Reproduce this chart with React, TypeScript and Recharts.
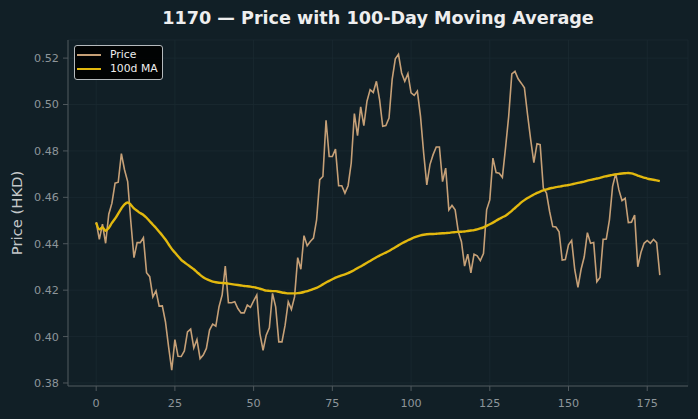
import { LineChart, Line, XAxis, YAxis, CartesianGrid } from "recharts";

// daily closing price (HKD), day 0..179
const price = [
  0.4493, 0.4419, 0.4484, 0.4402, 0.4527, 0.4575, 0.4661, 0.4665, 0.4788, 0.4719,
  0.4668, 0.4496, 0.434, 0.4405, 0.4405, 0.4426, 0.4275, 0.4258, 0.4171, 0.4197,
  0.4131, 0.4132, 0.4064, 0.3956, 0.3855, 0.3987, 0.3915, 0.3914, 0.3938, 0.402,
  0.4032, 0.3951, 0.3987, 0.3905, 0.392, 0.3949, 0.4028, 0.4054, 0.4045, 0.4128,
  0.4179, 0.4304, 0.4146, 0.4146, 0.415, 0.4121, 0.4102, 0.4102, 0.4136, 0.4126,
  0.4154, 0.4179, 0.4013, 0.3941, 0.4006, 0.4038, 0.4186, 0.4128, 0.3977, 0.3977,
  0.4049, 0.415, 0.4117, 0.4171, 0.434, 0.429, 0.4435, 0.4391, 0.441, 0.4424,
  0.4503, 0.4676, 0.469, 0.4932, 0.4776, 0.4776, 0.4808, 0.465, 0.465, 0.4618,
  0.465, 0.4748, 0.4961, 0.4866, 0.499, 0.4909, 0.5014, 0.5064, 0.5052, 0.51,
  0.5021, 0.4906, 0.4909, 0.4942, 0.5108, 0.5197, 0.5216, 0.5136, 0.51, 0.5133,
  0.505, 0.5039, 0.5058, 0.4949, 0.4791, 0.4654, 0.4741, 0.4784, 0.4817, 0.4817,
  0.4668, 0.4726, 0.4546, 0.4565, 0.4546, 0.4452, 0.4409, 0.4304, 0.4355, 0.4275,
  0.4355, 0.4348, 0.4327, 0.4358, 0.4546, 0.4589, 0.4769, 0.4707, 0.4704, 0.4686,
  0.4813, 0.4949, 0.5132, 0.5143, 0.5111, 0.5092, 0.5072, 0.4956, 0.4848, 0.475,
  0.4831, 0.4827, 0.464, 0.4618, 0.4539, 0.4474, 0.4472, 0.4452, 0.433, 0.4332,
  0.4395, 0.4414, 0.4287, 0.4212, 0.429, 0.4344, 0.4448, 0.4402, 0.4405, 0.4236,
  0.4255, 0.4419, 0.442, 0.4503, 0.4647, 0.4702, 0.4632, 0.4586, 0.4596, 0.4491,
  0.4493, 0.4524, 0.4301, 0.4362, 0.4402, 0.4414, 0.4402, 0.4419, 0.4405, 0.4265,
];

// 100-day moving average
const ma100 = [
  0.4491, 0.4462, 0.447, 0.4456, 0.4468, 0.449, 0.4508, 0.453, 0.4552, 0.457,
  0.4578, 0.4568, 0.4552, 0.4542, 0.4532, 0.4524, 0.4512, 0.4497, 0.4482, 0.4468,
  0.4452, 0.4436, 0.4418, 0.4398, 0.4378, 0.4362, 0.4346, 0.4331, 0.432, 0.431,
  0.43, 0.429, 0.4278, 0.4266, 0.4256, 0.4248, 0.4242, 0.4237, 0.4234, 0.4232,
  0.4231, 0.423, 0.4228, 0.4226, 0.4224, 0.4222, 0.422, 0.4218, 0.4217, 0.4215,
  0.4213, 0.421, 0.4206, 0.4202, 0.4198, 0.4197, 0.4196, 0.4196, 0.4193, 0.419,
  0.4188, 0.4186, 0.4186, 0.4186, 0.4187, 0.4189, 0.4192, 0.4196, 0.42, 0.4205,
  0.421, 0.4217, 0.4225, 0.4233, 0.424, 0.4247, 0.4254, 0.4259, 0.4264, 0.4268,
  0.4273, 0.428, 0.4287, 0.4295, 0.4302, 0.431, 0.4318, 0.4326, 0.4334, 0.4342,
  0.4349, 0.4356, 0.4362, 0.4369, 0.4377, 0.4385, 0.4393, 0.4401, 0.4408, 0.4415,
  0.4421, 0.4427, 0.4432, 0.4436, 0.4439, 0.4441, 0.4442, 0.4442, 0.4443, 0.4444,
  0.4445, 0.4446, 0.4447, 0.4449, 0.445, 0.4451, 0.4452, 0.4453, 0.4455, 0.4457,
  0.4459, 0.4462, 0.4466, 0.4471, 0.4477, 0.4484, 0.4491, 0.4499, 0.4507, 0.4514,
  0.4521, 0.4531, 0.4542, 0.4554, 0.4566, 0.4578, 0.4588, 0.4597, 0.4605, 0.4612,
  0.4619, 0.4625, 0.463, 0.4634, 0.4638, 0.4641, 0.4644, 0.4646, 0.4649, 0.4651,
  0.4653, 0.4656, 0.4659, 0.4662, 0.4665, 0.4668, 0.4672, 0.4675, 0.4678, 0.4681,
  0.4684, 0.4688, 0.4691, 0.4694, 0.4697, 0.4699, 0.4701, 0.4703, 0.4704, 0.4705,
  0.4703, 0.4699, 0.4694, 0.4689, 0.4685, 0.4681, 0.4678, 0.4676, 0.4673, 0.467,
];

const xTicks = [0, 25, 50, 75, 100, 125, 150, 175];
const yTicks = [0.38, 0.4, 0.42, 0.44, 0.46, 0.48, 0.5, 0.52];

const data = price.map((p, i) => ({ day: i, price: p, ma: ma100[i] }));

const BG = "#111f26";
const PRICE_COLOR = "#c6a077";
const MA_COLOR = "#e2b80e";
const TICK_COLOR = "#8d959a";
const FONT = "'DejaVu Sans', sans-serif";

function LegendBox() {
  const rows = [
    { label: "Price", color: PRICE_COLOR, w: 1.8 },
    { label: "100d MA", color: MA_COLOR, w: 2.4 },
  ];
  return (
    <div
      style={{
        position: "absolute",
        left: 74,
        top: 45,
        width: 87,
        height: 33,
        background: "rgba(0,0,0,0.9)",
        border: "1px solid #b5babd",
        borderRadius: 3,
        fontFamily: FONT,
        fontSize: 10.8,
        color: "#eeeeee",
      }}
    >
      {rows.map((r, i) => (
        <div
          key={r.label}
          style={{ position: "absolute", left: 2, top: 2 + i * 14, height: 14, display: "flex", alignItems: "center" }}
        >
          <div style={{ width: 24, height: r.w, background: r.color }} />
          <span style={{ marginLeft: 9, lineHeight: "12px" }}>{r.label}</span>
        </div>
      ))}
    </div>
  );
}

export default function App() {
  return (
    <div style={{ position: "absolute", left: 0, top: 0, width: 698, height: 419, background: BG }}>
      <LineChart width={698} height={419} data={data} margin={{ top: 40, right: 10, left: 0, bottom: 0 }}>
        <CartesianGrid stroke="#1b2a31" strokeWidth={0.8} horizontal vertical />
        <XAxis
          dataKey="day"
          type="number"
          domain={[-8.95, 187.95]}
          ticks={xTicks}
          allowDataOverflow
          height={33}
          stroke="#4f585d"
          tickSize={5}
          tickMargin={8}
          tick={{ fill: TICK_COLOR, fontSize: 11.2, fontFamily: FONT }}
        />
        <YAxis
          type="number"
          domain={[0.3787, 0.5278]}
          ticks={yTicks}
          allowDataOverflow
          width={68}
          stroke="#4f585d"
          tickSize={5}
          tickMargin={4}
          interval={0}
          tickFormatter={(v: number) => v.toFixed(2)}
          tick={{ fill: TICK_COLOR, fontSize: 11.2, fontFamily: FONT }}
          label={{
            value: "Price (HKD)",
            angle: -90,
            position: "center",
            dx: -17,
            fill: "#c4c8ca",
            fontSize: 14.8,
            fontFamily: FONT,
          }}
        />
        <Line
          type="linear"
          dataKey="price"
          name="Price"
          stroke={PRICE_COLOR}
          strokeWidth={1.6}
          dot={false}
          isAnimationActive={false}
        />
        <Line
          type="monotone"
          dataKey="ma"
          name="100d MA"
          stroke={MA_COLOR}
          strokeWidth={2.4}
          dot={false}
          isAnimationActive={false}
        />
      </LineChart>
      <div
        style={{
          position: "absolute",
          left: 68,
          width: 620,
          top: 8,
          lineHeight: "20px",
          textAlign: "center",
          fontFamily: FONT,
          fontWeight: "bold",
          fontSize: 17.6,
          color: "#eeeeee",
        }}
      >
        1170 — Price with 100-Day Moving Average
      </div>
      <LegendBox />
    </div>
  );
}
